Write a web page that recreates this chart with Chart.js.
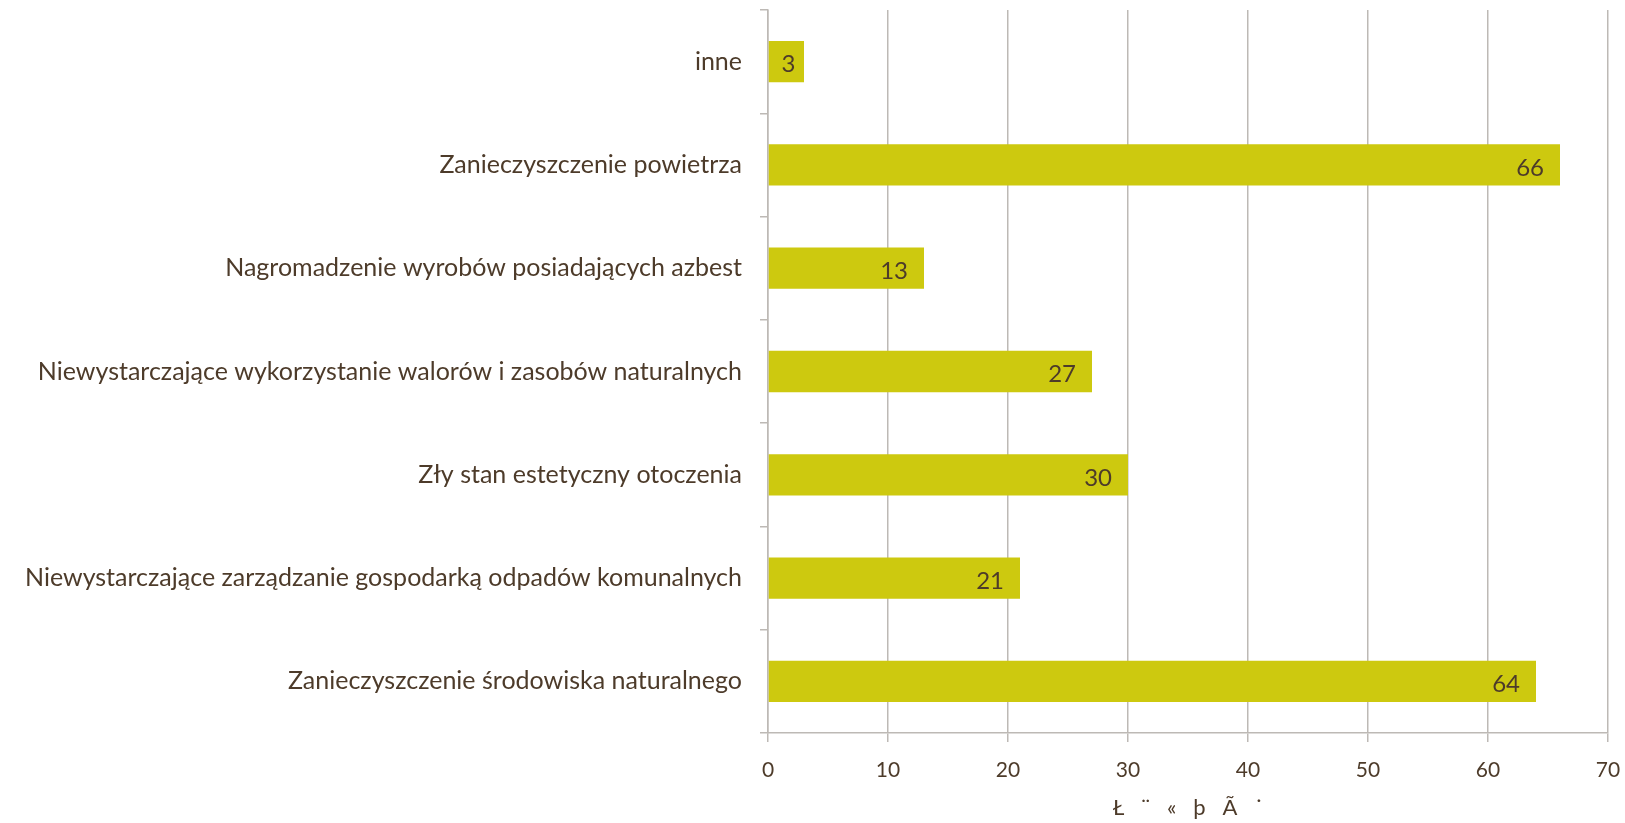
<!DOCTYPE html>
<html>
<head>
<meta charset="utf-8">
<script src="https://cdn.jsdelivr.net/npm/chart.js@4/dist/chart.umd.min.js"></script>
<style>
  html, body { margin: 0; padding: 0; background: #fff; }
  #wrap { width: 1625px; height: 823px; }
</style>
</head>
<body>
<div id="wrap"><canvas id="Mycharts"></canvas></div>
<script>
var labels = [
  "inne",
  "Zanieczyszczenie powietrza",
  "Nagromadzenie wyrobów posiadających azbest",
  "Niewystarczające wykorzystanie walorów i zasobów naturalnych",
  "Zły stan estetyczny otoczenia",
  "Niewystarczające zarządzanie gospodarką odpadów komunalnych",
  "Zanieczyszczenie środowiska naturalnego"
];
var values = [3, 66, 13, 27, 30, 21, 64];
var xTicks = [0, 10, 20, 30, 40, 50, 60, 70];
var axisTitle = "Ł   ¨   «   þ   Ã   ˙";

var textColor = "#4d3b2a";
var gridColor = "#bdb9b5";

// labels at the end of each bar
var barLabels = {
  id: "barLabels",
  afterDatasetsDraw: function (chart) {
    var ctx = chart.ctx;
    var meta = chart.getDatasetMeta(0);
    ctx.save();
    ctx.font = "24px Lato";
    ctx.fillStyle = textColor;
    ctx.textBaseline = "middle";
    meta.data.forEach(function (bar, i) {
      var txt = String(values[i]);
      var w = bar.x - bar.base;
      if (w < 50) {
        ctx.textAlign = "center";
        ctx.fillText(txt, bar.base + w / 2 + 2, bar.y + 3);
      } else {
        ctx.textAlign = "right";
        ctx.fillText(txt, bar.x - 16, bar.y + 3);
      }
    });
    ctx.restore();
  }
};

var ctx = document.getElementById('Mycharts').getContext('2d');
var Mycharts = new Chart(ctx, {
  type: 'bar',
  data: {
    labels: labels,
    datasets: [{
      data: values,
      backgroundColor: "#cdc90f",
      borderWidth: 0,
      barPercentage: 0.4,
      categoryPercentage: 1.0
    }]
  },
  options: {
    indexAxis: 'y',
    responsive: true,
    maintainAspectRatio: false,
    animation: false,
    layout: { padding: { top: 10, right: 17, left: 0, bottom: 0 } },
    plugins: {
      legend: { display: false },
      tooltip: { enabled: false }
    },
    scales: {
      x: {
        min: 0,
        max: 70,
        afterBuildTicks: function (scale) {
          scale.ticks = xTicks.map(function (v) { return { value: v }; });
        },
        afterFit: function (scale) {
          scale.height = 90;
          scale.paddingRight = 0;
          scale.paddingLeft = 0;
        },
        grid: { color: gridColor, lineWidth: 1.5, tickLength: 9 },
        border: { color: gridColor, width: 1.5 },
        ticks: { color: textColor, font: { family: "Lato", size: 21 }, padding: 16, maxRotation: 0 },
        title: {
          display: true,
          text: axisTitle,
          color: textColor,
          font: { family: "Lato", size: 22 },
          padding: { top: 0, bottom: 2 }
        }
      },
      y: {
        afterFit: function (scale) {
          scale.width = 768;
          scale.paddingTop = 0;
          scale.paddingBottom = 0;
        },
        grid: { display: true, drawOnChartArea: false, offset: true, color: gridColor, lineWidth: 1.5, tickLength: 8 },
        border: { color: gridColor, width: 1.5 },
        ticks: { color: textColor, font: { family: "Lato", size: 25 }, padding: 18, autoSkip: false }
      }
    }
  },
  plugins: [barLabels]
});
</script>
</body>
</html>
